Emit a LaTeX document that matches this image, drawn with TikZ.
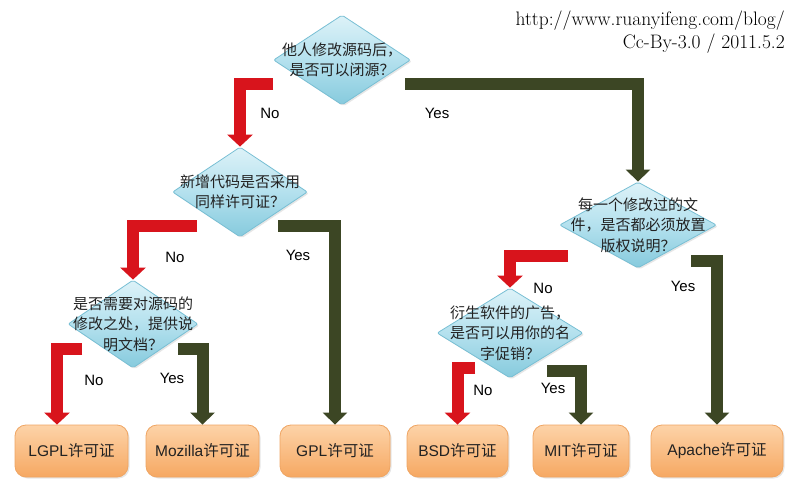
\documentclass[tikz,border=0pt]{standalone}
\usepackage{fontspec}
\newfontfamily\cjk{Noto Sans CJK SC}
\newfontfamily\arial{Liberation Sans}
\usetikzlibrary{shapes.geometric,arrows.meta,shadows}
\definecolor{diatop}{HTML}{DDF2F8}
\definecolor{diamid}{HTML}{B4E1EE}
\definecolor{diabot}{HTML}{86CADD}
\definecolor{diaedge}{HTML}{78BFD4}
\definecolor{boxtop}{HTML}{FDD3A8}
\definecolor{boxbot}{HTML}{F6A862}
\definecolor{boxedge}{HTML}{EFA563}
\definecolor{nored}{HTML}{D8141C}
\definecolor{yesolive}{HTML}{3C4624}
\definecolor{txt}{HTML}{222222}
\begin{document}
\begin{tikzpicture}[x=1pt,y=-1pt,
  dia/.style={diamond, draw=diaedge, line width=0.8pt, top color=diatop, bottom color=diabot, middle color=diamid,
    inner sep=0pt, rounded corners=2pt, drop shadow={opacity=0.2, shadow xshift=1.5pt, shadow yshift=-1.5pt}},
  qtext/.style={align=center, font=\cjk\fontsize{15}{20.5}\selectfont, text=txt},
  lic/.style={rectangle, rounded corners=11pt, draw=boxedge, line width=0.8pt, top color=boxtop, bottom color=boxbot,
    minimum height=52pt, inner sep=0pt, font=\arial\fontsize{15.5}{18}\selectfont, text=txt,
    drop shadow={opacity=0.2, shadow xshift=1.5pt, shadow yshift=-1.5pt}},
  noarr/.style={draw=nored, line width=12pt, line join=miter, -{Triangle[length=12pt,width=25pt]}},
  yesarr/.style={draw=yesolive, line width=12pt, line join=miter, -{Triangle[length=12pt,width=24pt]}},
  lab/.style={font=\arial\fontsize{15}{18}\selectfont, text=black},
  credit/.style={font=\fontsize{19.5}{22}\selectfont, anchor=east, inner sep=0pt}
]
\useasboundingbox (0,0) rectangle (800,500);

% decisions
\node[dia, minimum width=137pt, minimum height=90pt] (d1) at (342,60) {};
\node[qtext] (t1) at (d1) {他人修改源码后，\\是否可以闭源？};
\node[dia, minimum width=135pt, minimum height=90pt] (d2) at (240,192) {};
\node[qtext] (t2) at (d2) {新增代码是否采用\\同样许可证？};
\node[dia, minimum width=130pt, minimum height=88pt] (d3) at (133,324) {};
\node[qtext] (t3) at (d3) {是否需要对源码的\\修改之处，提供说\\明文档？};
\node[dia, minimum width=157pt, minimum height=86pt] (d4) at (638,225) {};
\node[qtext] (t4) at (d4) {每一个修改过的文\\件，是否都必须放置\\版权说明？};
\node[dia, minimum width=146pt, minimum height=90pt] (d5) at (510,333) {};
\node[qtext] (t5) at (d5) {衍生软件的广告，\\是否可以用你的名\\字促销？};

% licences
\node[lic, minimum width=113pt] (lgpl) at (71.5,451) {LGPL{\cjk 许可证}};
\node[lic, minimum width=113pt] (moz) at (202.5,451) {Mozilla{\cjk 许可证}};
\node[lic, minimum width=110pt] (gpl) at (335,451) {GPL{\cjk 许可证}};
\node[lic, minimum width=101pt] (bsd) at (457.5,451) {BSD{\cjk 许可证}};
\node[lic, minimum width=96pt] (mit) at (581,451) {MIT{\cjk 许可证}};
\node[lic, minimum width=132pt] (apache) at (717,451) {Apache{\cjk 许可证}};

% arrow starts
\coordinate (s1) at (273,84);
\coordinate (s2) at (405,84);
\coordinate (s3) at (197,226);
\coordinate (s4) at (278,226);
\coordinate (s5) at (82,349);
\coordinate (s6) at (178,349);
\coordinate (s7) at (568,256);
\coordinate (s8) at (691,261);
\coordinate (s9) at (475,368);
\coordinate (s10) at (547,371);

\draw[noarr] (s1) -| (d2.north);
\draw[yesarr] (s2) -| (d4.north);
\draw[noarr] (s3) -| (d3.north);
\draw[yesarr] (s4) -| (gpl.north);
\draw[noarr] (s5) -| ([xshift=-14.5pt]lgpl.north);
\draw[yesarr] (s6) -| (moz.north);
\draw[noarr] (s7) -| (d5.north);
\draw[yesarr] (s8) -| (apache.north);
\draw[noarr] (s9) -| (bsd.north);
\draw[yesarr] (s10) -| (mit.north);

% labels
\node[lab] (l1) at (270,113) {No};
\node[lab] (l2) at (437,113) {Yes};
\node[lab] (l3) at (175,257) {No};
\node[lab] (l4) at (298,255) {Yes};
\node[lab] (l5) at (94,380) {No};
\node[lab] (l6) at (172,378) {Yes};
\node[lab] (l7) at (543,288) {No};
\node[lab] (l8) at (683,286) {Yes};
\node[lab] (l9) at (483,390) {No};
\node[lab] (l10) at (553,388) {Yes};

% credit
\node[credit] (c1) at (785,21) {http://www.ruanyifeng.com/blog/};
\node[credit] (c2) at (785,44) {Cc-By-3.0 / 2011.5.2};
\end{tikzpicture}
\end{document}
